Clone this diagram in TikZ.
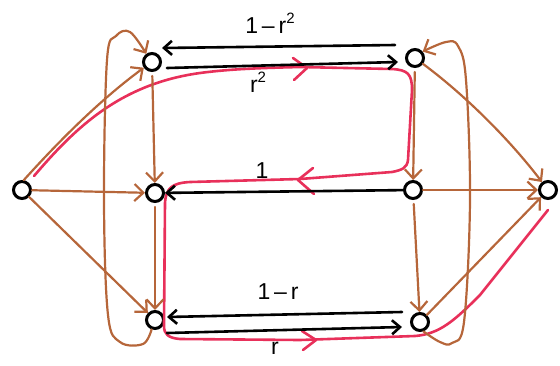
\documentclass[tikz,border=0pt]{standalone}
\usepackage{fontspec}
\setmainfont{Liberation Sans}
\usetikzlibrary{arrows.meta,calc}
\definecolor{br}{RGB}{182,102,58}
\definecolor{rd}{RGB}{232,48,90}
\newcommand{\sqr}{\raisebox{0.42em}{\fontsize{15}{15}\selectfont 2}}
\begin{document}
\begin{tikzpicture}[x=1pt,y=-1pt,
  vtx/.style={circle,draw=black,line width=3pt,minimum size=17pt,inner sep=0pt},
  bedge/.style={draw=br,line width=2.2pt,line cap=round,-{Straight Barb[length=9pt,width=17pt,line width=2.2pt]}},
  kedge/.style={draw=black,line width=2.6pt,line cap=round,-{Straight Barb[length=8pt,width=14pt,line width=2.6pt]}},
  rpath/.style={draw=rd,line width=2.6pt,line cap=round,line join=round},
  lbl/.style={font=\fontsize{23}{23}\selectfont,inner sep=0pt},
  ]
\useasboundingbox (0,0) rectangle (560,365);

% vertices
\node[vtx] (S) at (22,190) {};
\node[vtx] (A1) at (152,62) {};
\node[vtx] (A2) at (155,193) {};
\node[vtx] (A3) at (155,320) {};
\node[vtx] (B1) at (415,58) {};
\node[vtx] (B2) at (413,190) {};
\node[vtx] (B3) at (420,322) {};
\node[vtx] (T) at (548,190) {};

% red path
\draw[rpath] ($(S)+(12,-14)$) .. controls (75,128) and (120,84) .. (200,73)
  .. controls (230,69) and (260,68) .. (300,67) -- (392,69)
  .. controls (408,70) and (412,74) .. (412,90) -- (408,160)
  .. controls (407,168) and (402,170) .. (392,172) -- (300,179) -- (190,182)
  .. controls (172,183) and (166,188) .. (165,203) -- (164,326)
  .. controls (164,334) and (168,338) .. (180,339) -- (300,340) -- (415,336)
  .. controls (440,334) and (455,320) .. (480,295) -- ($(T)+(0,20)$);
\draw[rpath] (293,58) -- (307,68) -- (294,80);
\draw[rpath] (313,168) -- (298,180) -- (314,194);
\draw[rpath] (302,331) -- (316,340) -- (303,350);

% brown edges
\draw[bedge] (S.80) .. controls (60,140) and (100,100) .. (A1.215);
\draw[bedge] (S) -- (A2);
\draw[bedge] (S) -- (A3);
\draw[bedge,shorten <=4pt] (A1) -- (A2);
\draw[bedge,shorten <=4pt] (A2) -- (A3);
\draw[bedge,shorten <=4pt] (B1) -- (B2);
\draw[bedge,shorten <=4pt] (B2) -- (B3);
\draw[bedge] (B1) .. controls (465,95) and (510,140) .. (T);
\draw[bedge] (B2) -- (T);
\draw[bedge] (B3) -- (T);
\draw[bedge] plot[smooth,tension=0.6] coordinates {(A3.250) (143,344) (120,342) (108,315) (104,200) (107,60) (116,36) (130,32) (A1.125)};
\draw[bedge] plot[smooth,tension=0.6] coordinates {(B3.290) (440,342) (452,343) (464,322) (470,200) (466,80) (458,46) (446,42) (B1.40)};

% black edges
\draw[kedge] ($(B1)+(-20,-13)$) -- ($(A1)+(10,-14)$);
\draw[kedge] ($(A1)+(15,6)$) -- ($(B1)+(-17,4)$);
\draw[kedge] (B2) -- (A2);
\draw[kedge] ($(B3)+(-18,-10)$) -- ($(A3)+(12,-3)$);
\draw[kedge] ($(A3)+(12,13)$) -- ($(B3)+(-18,5)$);

% labels
\node[lbl] (l1) at (270,23) {1\,–\,r\sqr};
\node[lbl] (l2) at (258,82) {r\sqr};
\node[lbl] (l3) at (262,171) {1};
\node[lbl] (l4) at (278,292) {1\,–\,r};
\node[lbl] (l5) at (275,348) {r};
\end{tikzpicture}
\end{document}
